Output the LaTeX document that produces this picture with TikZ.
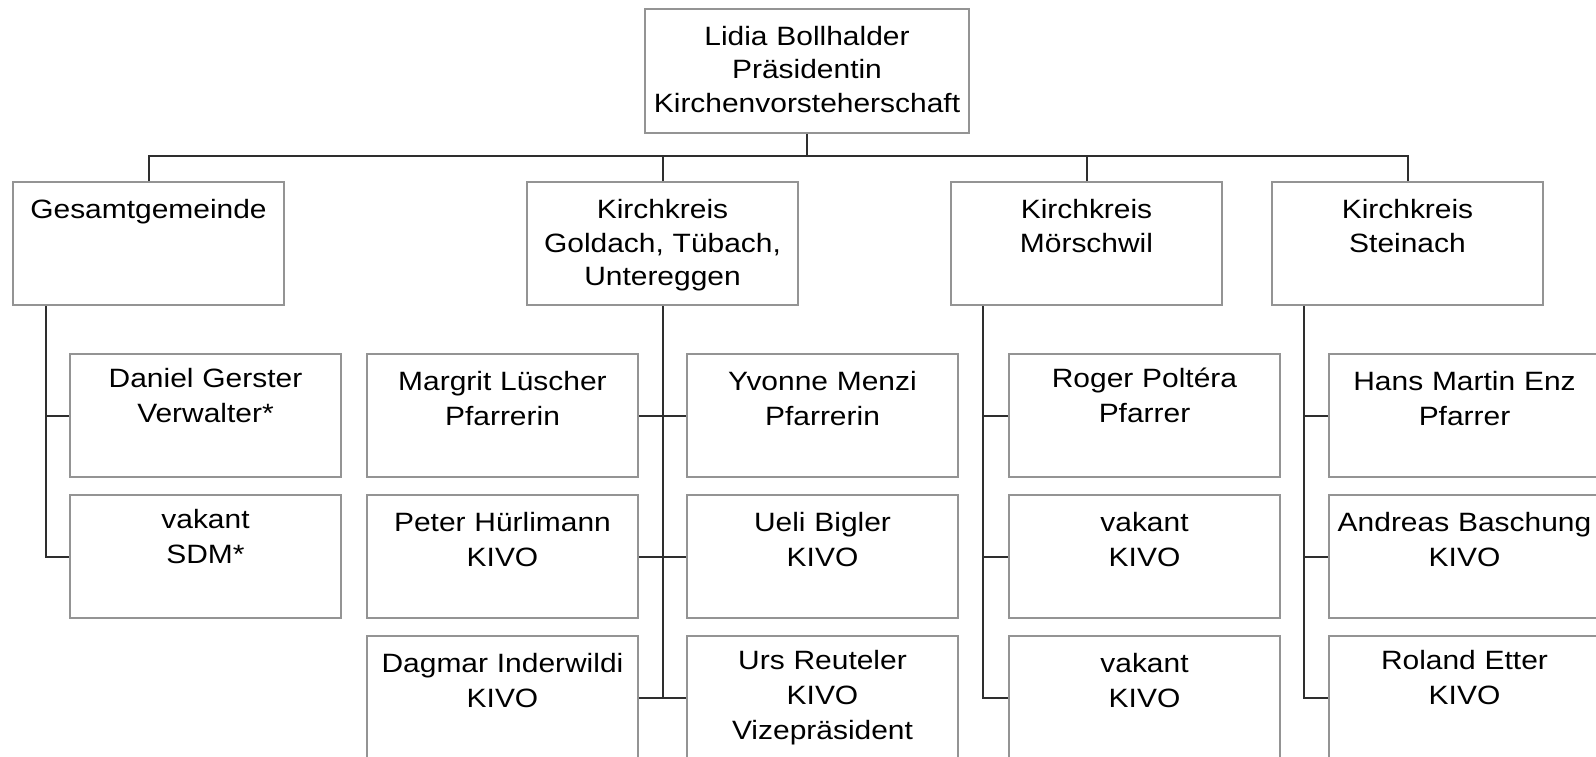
\documentclass[tikz,border=0pt]{standalone}
\usepackage{fontspec}
\setmainfont{Liberation Sans}[FakeStretch=1.13]
\definecolor{boxline}{gray}{0.58}
\definecolor{tieline}{gray}{0.18}
\tikzset{
  box/.style={draw=boxline, line width=2pt, fill=white, inner sep=0pt, anchor=north west,
    text width=271pt, align=center, text height=36.5pt, text depth=86.5pt,
    font=\fontsize{26.5}{33.5}\selectfont},
  member/.style={box, font=\fontsize{26.5}{35}\selectfont},
  memberhigh/.style={member, text height=33pt, text depth=90pt},
  headbox/.style={box, text width=324pt, text depth=87.5pt},
  tie/.style={draw=tieline, line width=2pt}
}
\begin{document}
\begin{tikzpicture}[x=1pt,y=-1pt]
\useasboundingbox (0,0) rectangle (1596,757);
\fill [white] (0,0) rectangle (1596,757);
\clip (0,0) rectangle (1596,757);
\coordinate (bus) at (0,156);
\node [headbox] (praes) at (644,8) {Lidia Bollhalder\\Präsidentin\\Kirchenvorsteherschaft};
\node [box] (gesamt) at (12,181) {Gesamtgemeinde};
\node [box] (goldach) at (526,181) {Kirchkreis\\Goldach, Tübach,\\Untereggen};
\node [box] (moersch) at (950,181) {Kirchkreis\\Mörschwil};
\node [box] (steinach) at (1271,181) {Kirchkreis\\Steinach};
% Gesamtgemeinde
\node [memberhigh] (gerster) at (69,353) {Daniel Gerster\\Verwalter*};
\node [memberhigh] (sdm) at (69,494) {vakant\\SDM*};
% Goldach, Tuebach, Untereggen
\node [member] (luescher) at (366,353) {Margrit Lüscher\\Pfarrerin};
\node [member] (huerlimann) at (366,494) {Peter Hürlimann\\KIVO};
\node [member] (inderwildi) at (366,635) {Dagmar Inderwildi\\KIVO};
\node [member] (menzi) at (686,353) {Yvonne Menzi\\Pfarrerin};
\node [member] (bigler) at (686,494) {Ueli Bigler\\KIVO};
\node [memberhigh] (reuteler) at (686,635) {Urs Reuteler\\KIVO\\Vizepräsident};
% Moerschwil
\node [memberhigh] (poltera) at (1008,353) {Roger Poltéra\\Pfarrer};
\node [member] (mkivoa) at (1008,494) {vakant\\KIVO};
\node [member] (mkivob) at (1008,635) {vakant\\KIVO};
% Steinach
\node [member] (enz) at (1328,353) {Hans Martin Enz\\Pfarrer};
\node [member] (baschung) at (1328,494) {Andreas Baschung\\KIVO};
\node [memberhigh] (etter) at (1328,635) {Roland Etter\\KIVO};
% top level
\draw [tie] (praes.south) -- (praes.south |- bus);
\draw [tie] (gesamt.north) |- (bus -| steinach.north) -- (steinach.north);
\draw [tie] (goldach.north) -- (goldach.north |- bus);
\draw [tie] (moersch.north) -- (moersch.north |- bus);
% second level
\draw [tie] ([xshift=34pt]gesamt.south west) |- (sdm.west);
\draw [tie] (gerster.west) -- ++(-23,0);
\draw [tie] (goldach.south) -- (goldach.south |- reuteler.west);
\draw [tie] (luescher.east) -- (menzi.west);
\draw [tie] (huerlimann.east) -- (bigler.west);
\draw [tie] (inderwildi.east) -- (reuteler.west);
\draw [tie] ([xshift=33pt]moersch.south west) |- (mkivob.west);
\draw [tie] (poltera.west) -- ++(-25,0);
\draw [tie] (mkivoa.west) -- ++(-25,0);
\draw [tie] ([xshift=33pt]steinach.south west) |- (etter.west);
\draw [tie] (enz.west) -- ++(-24,0);
\draw [tie] (baschung.west) -- ++(-24,0);
\end{tikzpicture}
\end{document}
